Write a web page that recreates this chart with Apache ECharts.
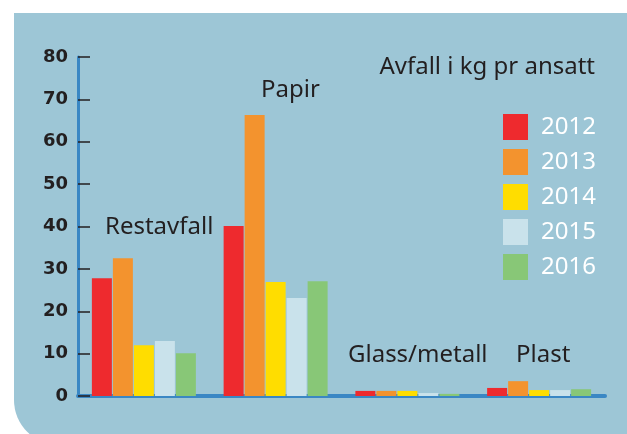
<!DOCTYPE html>
<html><head><meta charset="utf-8">
<script src="https://cdn.jsdelivr.net/npm/echarts@6/dist/echarts.min.js"></script>
<style>html,body{margin:0;padding:0;background:#fff}#c{width:627px;height:434px}</style>
</head><body><div id="c"></div>
<script>
var categories = ['Restavfall', 'Papir', 'Glass/metall', 'Plast'];
var years = ['2012', '2013', '2014', '2015', '2016'];
var v2012 = [27.8, 40.1, 1.2, 1.9];
var v2013 = [32.5, 66.3, 1.2, 3.5];
var v2014 = [12.0, 26.9, 1.2, 1.4];
var v2015 = [13.0, 23.1, 0.7, 1.4];
var v2016 = [10.1, 27.1, 0.5, 1.6];
var yTicks = [0, 10, 20, 30, 40, 50, 60, 70, 80];
var title = 'Avfall i kg pr ansatt';

var colors = ['#ee2a2e', '#f3932e', '#ffdd00', '#c9e2eb', '#88c777'];
var values = [v2012, v2013, v2014, v2015, v2016];
var textColor = '#231f20';
var labelPos = [[105, 227], [261, 90], [348, 355], [516, 355]];

var chart = echarts.init(document.getElementById('c'));
var series = years.map(function (y, i) {
  return {
    name: y, type: 'bar', data: values[i], barWidth: 20, barGap: '5%',
    itemStyle: { color: colors[i] }, z: 2
  };
});
chart.setOption({
  animation: false,
  color: colors,
  title: {
    text: title, right: 32, top: 55, padding: 0,
    textStyle: { fontFamily: 'Noto Sans', fontSize: 24, fontWeight: 'normal', color: textColor }
  },
  legend: {
    orient: 'vertical', left: 503, top: 114, padding: 0,
    itemWidth: 25, itemHeight: 26, itemGap: 9, icon: 'rect',
    data: years,
    textStyle: { color: '#ffffff', fontFamily: 'Noto Sans', fontSize: 24, padding: [0, 0, 0, 8] }
  },
  grid: { left: 78, right: 22, top: 57, bottom: 38, containLabel: false },
  xAxis: {
    type: 'category', data: categories,
    axisLine: { lineStyle: { color: '#3a87c4', width: 4 } },
    axisTick: { show: false }, axisLabel: { show: false }
  },
  yAxis: {
    type: 'value', min: yTicks[0], max: yTicks[yTicks.length - 1], interval: 10,
    axisLine: { show: true, lineStyle: { color: '#3a87c4', width: 3 } },
    axisTick: { show: true, inside: true, length: 12, lineStyle: { color: textColor, width: 1.5 } },
    axisLabel: { margin: 10, color: textColor, fontFamily: 'DejaVu Sans', fontSize: 18, fontWeight: 'bold' },
    splitLine: { show: false }
  },
  graphic: [
    {
      type: 'rect', z: -100, silent: true,
      shape: { x: 14, y: 13, width: 660, height: 432, r: [0, 47, 0, 45] },
      style: { fill: '#9dc6d6' }
    }
  ].concat(categories.map(function (c, i) {
    return {
      type: 'text', z: 100, x: labelPos[i][0], y: labelPos[i][1],
      style: { text: c, fill: textColor, font: '24px "Noto Sans"', verticalAlign: 'middle' }
    };
  })),
  series: series
});
</script></body></html>
